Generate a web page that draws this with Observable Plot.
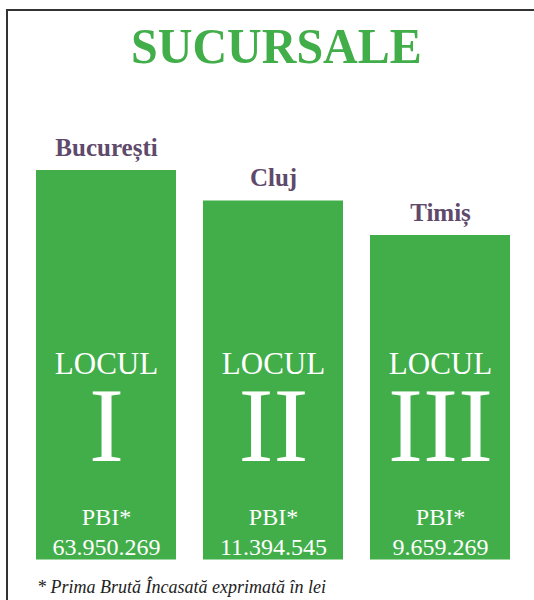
<!DOCTYPE html>
<html>
<head>
<meta charset="utf-8">
<script src="https://cdn.jsdelivr.net/npm/d3@7"></script>
<script src="https://cdn.jsdelivr.net/npm/@observablehq/plot@0.6"></script>
<style>
  html, body { margin: 0; padding: 0; background: #fff; }
  #wrap { position: relative; width: 534px; height: 600px; overflow: hidden; }
  #frame { position: absolute; left: 6px; top: 9px; right: -10px; bottom: -10px;
           border-left: 2px solid #333; border-top: 2px solid #333; }
  #title { position: absolute; left: 0; width: 534px; top: 21px; text-align: center;
           font-family: "Liberation Serif", serif; font-weight: bold; font-size: 50px;
           color: #42ae4a; line-height: 1; }
  #title span { display: inline-block; transform: scaleX(0.96); transform-origin: center;
                position: relative; left: 9px; }
  #note { position: absolute; left: 37px; top: 577px; font-family: "Liberation Serif", serif;
          font-style: italic; font-size: 18px; color: #222; white-space: nowrap; }
  #chart { position: absolute; left: 0; top: 0; }
</style>
</head>
<body>
<div id="wrap">
  <div id="chart"></div>
  <div id="frame"></div>
  <div id="title"><span>SUCURSALE</span></div>
  <div id="note">* Prima Brută Încasată exprimată în lei</div>
</div>
<script>
const cities = ["București", "Cluj", "Timiș"];
const podium = [389.5, 359, 324.5];          // podium heights (rank order, not proportional to PBI)
const rankWord = ["LOCUL", "LOCUL", "LOCUL"];
const roman = ["I", "II", "III"];
const pbiLabel = ["PBI*", "PBI*", "PBI*"];
const pbi = ["63.950.269", "11.394.545", "9.659.269"];

const data = cities.map((c, i) => ({
  city: c, h: podium[i], word: rankWord[i], roman: roman[i], lab: pbiLabel[i], val: pbi[i]
}));

const green = "#42ae4a";
const purple = "#5f4a6b";
const serif = "Liberation Serif";

const chart = Plot.plot({
  width: 534,
  height: 600,
  marginTop: 0,
  marginBottom: 40.5,
  marginLeft: 36,
  marginRight: 24,
  x: { domain: cities, paddingInner: 0.162, paddingOuter: 0, axis: null },
  y: { domain: [0, 559.5], axis: null },
  style: { fontFamily: serif, background: "transparent" },
  marks: [
    Plot.barY(data, { x: "city", y: "h", fill: green }),
    Plot.text(data, { x: "city", y: "h", text: "city", dy: -15, lineAnchor: "bottom",
      fill: purple, fontWeight: "bold", fontSize: 25, fontFamily: serif }),
    Plot.text(data, { x: "city", y: 0, text: "word", dy: -186, lineAnchor: "bottom",
      fill: "white", fontSize: 31, fontFamily: serif }),
    Plot.text(data, { x: "city", y: 0, text: "roman", dy: -99, lineAnchor: "bottom",
      fill: "white", fontSize: 105, fontFamily: serif }),
    Plot.text(data, { x: "city", y: 0, text: "lab", dy: -35, lineAnchor: "bottom",
      fill: "white", fontSize: 24, fontFamily: serif }),
    Plot.text(data, { x: "city", y: 0, text: "val", dy: -5, lineAnchor: "bottom",
      fill: "white", fontSize: 24, fontFamily: serif })
  ]
});
document.getElementById("chart").appendChild(chart);
</script>
</body>
</html>
